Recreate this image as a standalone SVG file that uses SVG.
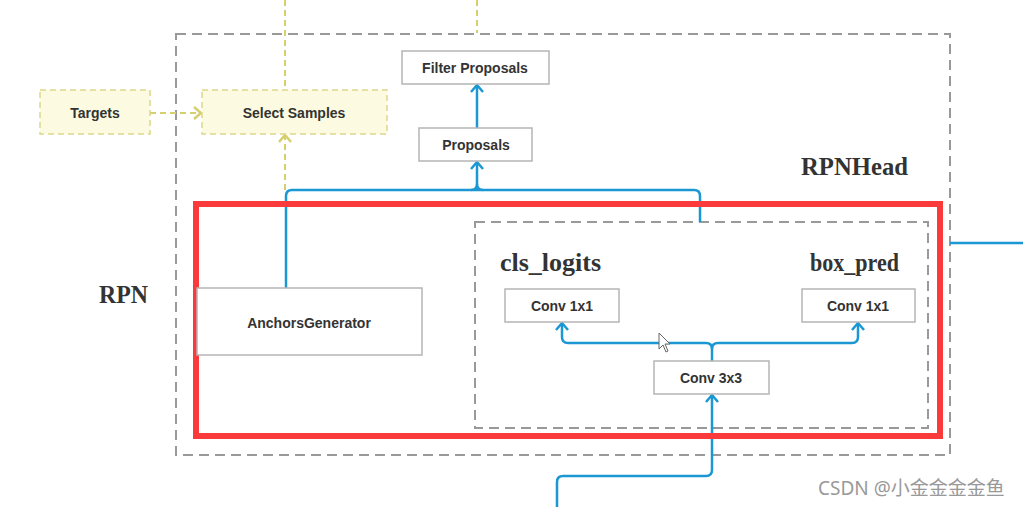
<svg xmlns="http://www.w3.org/2000/svg" width="1023" height="507" viewBox="0 0 1023 507">
<defs>
<style>
.box{fill:#fff;stroke:#b5b5b5;stroke-width:1.5}
.ybox{fill:#fcfbe1;stroke:#dcd88a;stroke-width:1.5;stroke-dasharray:6 4}
.lbl{font-family:"Liberation Sans",Arial,sans-serif;font-weight:bold;font-size:14px;fill:#333;text-anchor:middle}
.ttl{font-family:"Liberation Serif","Times New Roman",serif;font-weight:bold;font-size:25px;fill:#333}
.dash{fill:none;stroke:#999;stroke-width:2;stroke-dasharray:10 6}
.blue{fill:none;stroke:#1b98d3;stroke-width:2.5;stroke-linejoin:round}
.yel{fill:none;stroke:#d6cf6e;stroke-width:2;stroke-dasharray:6 4}
</style>
<marker id="ab" viewBox="0 0 14 14" refX="12" refY="7" markerWidth="14" markerHeight="14" markerUnits="userSpaceOnUse" orient="auto">
<path d="M5,1 L12,7 L5,13" fill="none" stroke="#1b98d3" stroke-width="2.5" stroke-linejoin="round"/>
</marker>
<marker id="ay" viewBox="0 0 14 14" refX="12" refY="7" markerWidth="14" markerHeight="14" markerUnits="userSpaceOnUse" orient="auto">
<path d="M5,1 L12,7 L5,13" fill="none" stroke="#d6cf6e" stroke-width="2.5"/>
</marker>
</defs>
<rect width="1023" height="507" fill="#fff"/>

<g id="containers">
<rect class="dash" x="176" y="34" width="774" height="421"/>
<rect class="dash" x="475" y="222" width="453" height="206"/>
<text class="ttl" x="801" y="175" textLength="107" lengthAdjust="spacingAndGlyphs">RPNHead</text>
<text class="ttl" x="99" y="303" textLength="49" lengthAdjust="spacingAndGlyphs">RPN</text>
<text class="ttl" x="500" y="271" textLength="101" lengthAdjust="spacingAndGlyphs">cls_logits</text>
<text class="ttl" x="810" y="271" textLength="89" lengthAdjust="spacingAndGlyphs">box_pred</text>
</g>

<g id="connectors">
<line class="yel" x1="285" y1="0" x2="285" y2="90"/>
<line class="yel" x1="477" y1="0" x2="477" y2="33"/>
<line class="yel" x1="150" y1="113" x2="201" y2="113" marker-end="url(#ay)"/>
<line class="yel" x1="285" y1="190" x2="285" y2="135" marker-end="url(#ay)"/>
<path class="blue" d="M286,288 V196 Q286,190 292,190 H694 Q700,190 700,196 V222"/>
<path class="blue" d="M471,190 Q477,190 477,184 V162" marker-end="url(#ab)"/>
<path class="blue" d="M477,184 Q477,190 483,190"/>
<line class="blue" x1="477" y1="128" x2="477" y2="85" marker-end="url(#ab)"/>
<path class="blue" d="M712,361 V349 Q712,343 706,343 H568 Q562,343 562,337 V323" marker-end="url(#ab)"/>
<path class="blue" d="M712,349 Q712,343 718,343 H852 Q858,343 858,337 V323" marker-end="url(#ab)"/>
<path class="blue" d="M557,507 V482 Q557,476 563,476 H706 Q712,476 712,470 V395" marker-end="url(#ab)"/>
<line class="blue" x1="950" y1="243" x2="1023" y2="243"/>
</g>

<g id="highlight">
<rect x="196" y="204" width="744" height="232" fill="none" stroke="#fb3a3c" stroke-width="6"/>
</g>

<g id="targets">
<rect class="ybox" x="40" y="90" width="110" height="44"/>
<text class="lbl" x="95" y="118">Targets</text>
</g>
<g id="select-samples">
<rect class="ybox" x="202" y="90" width="185" height="44"/>
<text class="lbl" x="294" y="118">Select Samples</text>
</g>
<g id="filter-proposals">
<rect class="box" x="402" y="51" width="147" height="33"/>
<text class="lbl" x="475" y="73">Filter Proposals</text>
</g>
<g id="proposals">
<rect class="box" x="419" y="128" width="113" height="33"/>
<text class="lbl" x="476" y="150">Proposals</text>
</g>
<g id="anchors-generator">
<rect class="box" x="197" y="288" width="225" height="67"/>
<text class="lbl" x="309" y="328">AnchorsGenerator</text>
</g>
<g id="conv1x1-cls">
<rect class="box" x="505" y="289" width="114" height="33"/>
<text class="lbl" x="562" y="311">Conv 1x1</text>
</g>
<g id="conv1x1-box">
<rect class="box" x="802" y="289" width="113" height="33"/>
<text class="lbl" x="858" y="311">Conv 1x1</text>
</g>
<g id="conv3x3">
<rect class="box" x="654" y="361" width="115" height="33"/>
<text class="lbl" x="711" y="383">Conv 3x3</text>
</g>

<path d="M659,333 V349 L663,345 L666,352 L668,351 L665,344 L670,344 Z" fill="#fff" stroke="#666" stroke-width="1"/>
<text x="818" y="495" font-family="'Noto Sans','Noto Sans CJK SC',sans-serif" font-size="19" fill="#999">CSDN @小金金金金鱼</text>
</svg>
